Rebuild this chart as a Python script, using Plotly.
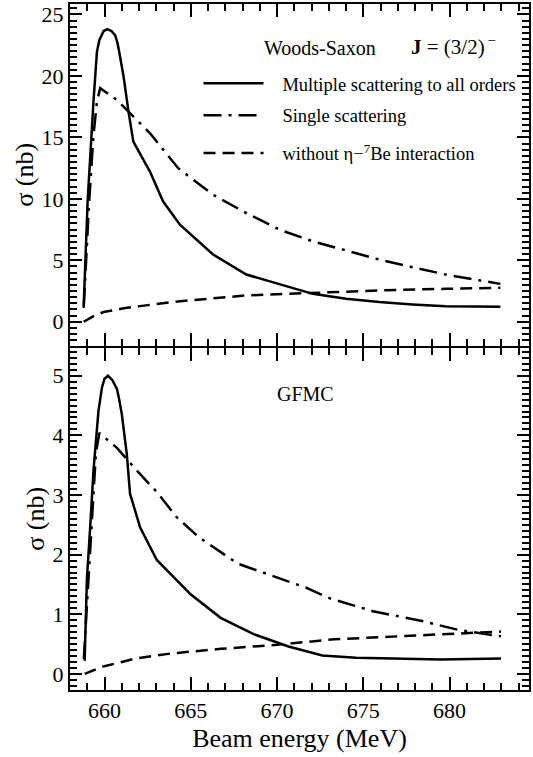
import plotly.graph_objects as go

# ---- data: Woods-Saxon (top panel) ----
ws_ms_x = [658.79, 659.02, 659.36, 659.56, 659.7, 659.81, 659.95, 660.17, 660.4, 660.62, 660.75, 660.85,
           661.1, 661.39, 661.67, 662.64, 663.39, 664.37, 666.29, 668.22, 670.14, 672.07, 674.0,
           675.92, 677.84, 679.77, 682.94]
ws_ms_y = [1.13, 9.77, 17.9, 21.96, 22.9, 23.3, 23.65, 23.8, 23.65, 23.3, 22.7, 21.96,
           20.0, 17.1, 14.65, 12.2, 9.8, 7.9, 5.47, 3.84, 3.03, 2.27, 1.87,
           1.6, 1.41, 1.27, 1.22]
ws_ss_x = [658.8, 659.1, 659.35, 659.56, 659.75, 660.72, 661.39, 662.64, 664.27, 666.29, 668.22,
           670.14, 672.07, 674.0, 675.92, 677.84, 679.77, 681.69, 682.94]
ws_ss_y = [1.3, 9.5, 15.0, 17.9, 19.0, 18.04, 17.09, 15.33, 12.49, 10.33, 8.84,
           7.49, 6.54, 5.79, 5.06, 4.44, 3.84, 3.38, 3.08]
ws_ni_x = [658.79, 659.37, 659.94, 661.1, 662.06, 664.0, 668.22, 672.07, 675.92, 679.77, 682.94]
ws_ni_y = [0.0, 0.46, 0.79, 1.09, 1.27, 1.62, 2.14, 2.35, 2.55, 2.68, 2.76]

# ---- data: GFMC (bottom panel) ----
g_ms_x = [658.85, 658.98, 659.17, 659.36, 659.65, 659.75, 659.85, 660.0, 660.2, 660.45, 660.72,
          660.85, 661.0, 661.29, 661.48, 662.06, 663.03, 664.08, 664.97, 666.73, 668.7, 670.66,
          672.62, 674.58, 677.53, 679.49, 682.98]
g_ms_y = [0.22, 1.6, 2.46, 3.41, 4.41, 4.65, 4.80, 4.95, 5.0, 4.93, 4.78,
          4.6, 4.36, 3.69, 3.02, 2.46, 1.91, 1.6, 1.34, 0.94, 0.66, 0.46,
          0.31, 0.27, 0.25, 0.24, 0.26]
g_ss_x = [658.8, 659.05, 659.3, 659.5, 659.7, 660.72, 661.87, 663.03, 664.18, 665.43, 667.71,
          671.64, 673.03, 675.57, 678.51, 680.47, 682.98]
g_ss_y = [0.25, 1.5, 2.8, 3.7, 4.04, 3.79, 3.41, 3.05, 2.63, 2.30, 1.85,
          1.45, 1.27, 1.05, 0.88, 0.74, 0.63]
g_ni_x = [658.85, 659.87, 661.83, 663.79, 666.73, 669.67, 673.3, 677.53, 681.46, 682.98]
g_ni_y = [0.0, 0.12, 0.26, 0.34, 0.42, 0.48, 0.58, 0.64, 0.70, 0.71]

x_ticks = [660, 665, 670, 675, 680]
top_yticks = [0, 5, 10, 15, 20, 25]
bot_yticks = [0, 1, 2, 3, 4, 5]
names = ["Multiple scattering to all orders", "Single scattering",
         "without η\u2212<sup>7</sup>Be interaction"]

FONT = "Liberation Serif"
SOLID = dict(color="black", width=2.5)
DASHDOT = dict(color="black", width=2.5, dash="18px,7px,3px,7px")
DASHED = dict(color="black", width=2.5, dash="12px,7px")

fig = go.Figure()

legends = ["legend", "legend2", "legend3"]
top = [(ws_ms_x, ws_ms_y, SOLID), (ws_ss_x, ws_ss_y, DASHDOT), (ws_ni_x, ws_ni_y, DASHED)]
bot = [(g_ms_x, g_ms_y, SOLID), (g_ss_x, g_ss_y, DASHDOT), (g_ni_x, g_ni_y, DASHED)]
PAD = "\u00a0\u00a0\u00a0"
for i, (x, y, ln) in enumerate(top):
    fig.add_trace(go.Scatter(x=x, y=y, mode="lines", line=ln, name=PAD + names[i],
                             legend=legends[i], showlegend=True, xaxis="x2", yaxis="y2"))
for i, (x, y, ln) in enumerate(bot):
    fig.add_trace(go.Scatter(x=x, y=y, mode="lines", line=ln, name=names[i],
                             showlegend=False, xaxis="x", yaxis="y"))

axis_common = dict(showline=True, linecolor="black", linewidth=2, mirror="allticks",
                   ticks="inside", tickcolor="black", tickwidth=1.5, showgrid=False,
                   zeroline=False, tickfont=dict(family=FONT, size=22, color="black"))
xminor = dict(dtick=1, tick0=658, ticks="inside", ticklen=7, tickwidth=1.5,
              tickcolor="black", showgrid=False)
ttl = dict(family=FONT, size=26, color="black")

# plot area spans pixel rows 2..690 (688 px)
H0, H1 = 2, 690
def py2paper(py):
    return (H1 - py) / (H1 - H0)

xr = [658.0, 684.6]
fig.update_layout(
    xaxis=dict(range=xr, tickvals=x_ticks, ticklen=13, minor=xminor, anchor="y",
               title=dict(text="Beam energy (MeV)", font=ttl, standoff=6), **axis_common),
    xaxis2=dict(range=xr, tickvals=x_ticks, ticklen=13, minor=xminor, anchor="y2",
                matches="x", showticklabels=False, **axis_common),
    yaxis=dict(domain=[0, py2paper(346.7)], range=[-0.27, 5.47], tickvals=bot_yticks, ticklen=12,
               minor=dict(dtick=0.1, tick0=0, ticks="inside", ticklen=7, tickwidth=1.5,
                          tickcolor="black", showgrid=False),
               title=dict(text="σ (nb)", font=ttl, standoff=0), anchor="x", **axis_common),
    yaxis2=dict(domain=[py2paper(344.7), 1], range=[-1.95, 25.85], tickvals=top_yticks, ticklen=12,
                minor=dict(dtick=0.5, tick0=0, ticks="inside", ticklen=7, tickwidth=1.5,
                           tickcolor="black", showgrid=False),
                title=dict(text="σ (nb)", font=ttl, standoff=0), anchor="x2", **axis_common),
)

fig.add_annotation(text="Woods-Saxon", x=0.545, y=py2paper(46), xref="paper", yref="paper",
                   showarrow=False, xanchor="center", yanchor="middle",
                   font=dict(family=FONT, size=20, color="black"))
fig.add_annotation(text="<b>J</b> = (3/2)<sup>\u2009\u2212</sup>", x=0.739, y=py2paper(44),
                   xref="paper", yref="paper", showarrow=False, xanchor="left", yanchor="middle",
                   font=dict(family=FONT, size=21, color="black"))
fig.add_annotation(text="GFMC", x=0.513, y=py2paper(393), xref="paper", yref="paper",
                   showarrow=False, xanchor="center", yanchor="middle",
                   font=dict(family=FONT, size=20, color="black"))

leg_common = dict(xanchor="left", yanchor="middle", bgcolor="rgba(0,0,0,0)",
                  font=dict(family=FONT, size=18.5, color="black"), itemwidth=60)
fig.update_layout(
    width=533, height=757,
    margin=dict(l=70, r=3, t=H0, b=757 - H1),
    paper_bgcolor="white", plot_bgcolor="white",
    font=dict(family=FONT, color="black"),
    showlegend=True,
    legend=dict(x=0.28, y=py2paper(82), **leg_common),
    legend2=dict(x=0.28, y=py2paper(114), **leg_common),
    legend3=dict(x=0.28, y=py2paper(152), **leg_common),
)

fig.write_html("out.html")
